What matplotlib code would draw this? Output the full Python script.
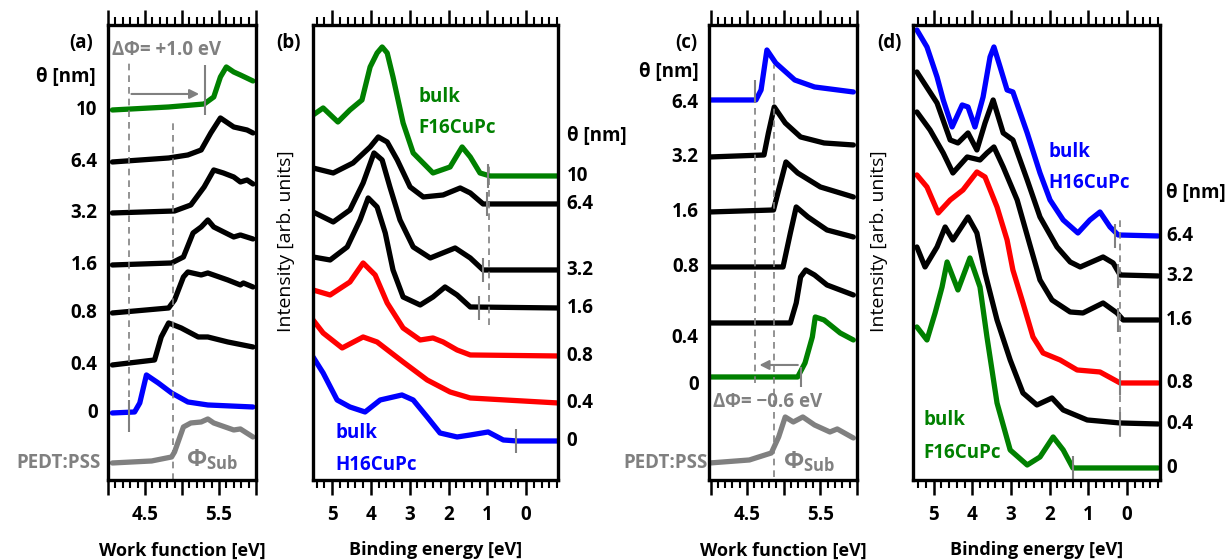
import matplotlib.pyplot as plt
from matplotlib.ticker import MultipleLocator

plt.rcParams['font.family'] = ['Open Sans', 'DejaVu Sans']
plt.rcParams['font.weight'] = 'bold'
plt.rcParams['font.size'] = 13.5
plt.rcParams['mathtext.default'] = 'regular'

GREEN = '#008000'
BLUE = '#0000ff'
RED = '#ff0000'
GRAY = '#808080'

# ---- (a) work function, F16CuPc on H16CuPc / PEDT:PSS ----
a_wf_10 = [4.06, 4.82, 5.30, 5.43, 5.52, 5.60, 5.70, 5.79, 5.96]
a_int_10 = [370, 373, 376, 383, 403, 413, 408, 405, 399]
a_wf_64 = [4.06, 4.82, 5.08, 5.26, 5.39, 5.52, 5.62, 5.70, 5.88, 5.96]
a_int_64 = [318, 322, 325, 330, 347, 362, 357, 353, 350, 347]
a_wf_32 = [4.06, 4.90, 5.12, 5.30, 5.43, 5.56, 5.70, 5.79, 5.88, 5.96]
a_int_32 = [267, 269, 275, 293, 310, 307, 303, 298, 300, 296]
a_wf_16 = [4.06, 4.86, 5.02, 5.15, 5.26, 5.35, 5.43, 5.70, 5.79, 5.96]
a_int_16 = [215, 217, 223, 247, 253, 260, 253, 243, 245, 241]
a_wf_08 = [4.06, 4.82, 4.90, 5.02, 5.08, 5.26, 5.35, 5.62, 5.79, 5.83, 5.96]
a_int_08 = [167, 172, 180, 203, 208, 205, 207, 200, 195, 197, 193]
a_wf_04 = [4.06, 4.63, 4.72, 4.82, 4.99, 5.22, 5.35, 5.62, 5.96]
a_int_04 = [115, 120, 143, 157, 152, 143, 143, 138, 133]
a_wf_0 = [4.06, 4.36, 4.43, 4.52, 4.68, 4.86, 5.08, 5.35, 5.96]
a_int_0 = [67, 68, 77, 105, 97, 87, 78, 75, 73]
a_wf_sub = [4.06, 4.59, 4.86, 4.90, 5.02, 5.12, 5.26, 5.35, 5.43, 5.70, 5.79, 5.96]
a_int_sub = [17, 19, 23, 28, 53, 57, 58, 61, 57, 50, 51, 43]
a_labels = ['10', '6.4', '3.2', '1.6', '0.8', '0.4', '0']

# ---- (b) valence band ----
b_be_10 = [5.49, 5.23, 4.85, 4.54, 4.23, 4.02, 3.84, 3.71, 3.58, 3.43, 3.17, 2.91, 2.40, 1.96, 1.65, 1.44, 1.19, 0.93, -0.82]
b_int_10 = [365, 372, 358, 370, 380, 413, 427, 433, 427, 403, 357, 327, 307, 313, 333, 323, 307, 304, 304]
b_be_64 = [5.49, 4.97, 4.46, 4.02, 3.81, 3.58, 3.32, 2.99, 2.65, 2.14, 1.70, 1.44, 1.11, -0.82]
b_int_64 = [312, 307, 317, 333, 343, 338, 320, 293, 283, 285, 292, 287, 276, 276]
b_be_32 = [5.49, 4.97, 4.54, 4.20, 3.92, 3.71, 3.51, 3.25, 2.91, 2.47, 1.83, 1.44, 1.11, -0.82]
b_int_32 = [268, 258, 270, 297, 327, 320, 293, 260, 233, 222, 232, 222, 210, 210]
b_be_16 = [5.49, 5.05, 4.61, 4.28, 4.07, 3.84, 3.63, 3.43, 3.17, 2.73, 2.40, 2.09, 1.78, 1.44, -0.82]
b_int_16 = [223, 220, 233, 260, 282, 273, 247, 210, 183, 175, 183, 193, 185, 173, 172]
b_be_08 = [5.49, 5.05, 4.54, 4.20, 3.89, 3.58, 3.17, 2.73, 2.40, 2.14, 1.78, 1.44, -0.82]
b_int_08 = [190, 185, 198, 217, 205, 177, 152, 140, 142, 138, 130, 125, 124]
b_be_04 = [5.49, 5.23, 4.74, 4.20, 3.84, 3.17, 2.55, 1.96, 1.44, -0.82]
b_int_04 = [160, 147, 132, 143, 138, 118, 100, 88, 82, 77]
b_be_0 = [5.49, 5.23, 4.87, 4.54, 4.15, 3.76, 3.20, 2.91, 2.55, 2.22, 1.78, 1.44, 0.98, 0.59, 0.23, -0.82]
b_int_0 = [123, 107, 80, 73, 68, 80, 85, 80, 63, 47, 43, 45, 48, 40, 39, 39]
b_onset = [0.98, 1.01, 1.11, 1.21, 0.26]

# ---- (c) work function, H16CuPc on F16CuPc / PEDT:PSS ----
c_wf_64 = [3.99, 4.62, 4.69, 4.77, 4.89, 5.15, 5.42, 5.95]
c_int_64 = [380, 380, 390, 430, 417, 400, 393, 388]
c_wf_32 = [3.99, 4.73, 4.79, 4.87, 5.02, 5.23, 5.55, 5.95]
c_int_32 = [323, 325, 347, 373, 357, 343, 337, 335]
c_wf_16 = [3.99, 4.86, 4.93, 5.03, 5.19, 5.50, 5.95]
c_int_16 = [268, 270, 290, 318, 307, 293, 283]
c_wf_08 = [3.99, 4.99, 5.09, 5.17, 5.33, 5.59, 5.95]
c_int_08 = [213, 213, 247, 273, 263, 250, 243]
c_wf_04 = [3.99, 5.09, 5.17, 5.23, 5.30, 5.42, 5.59, 5.95]
c_int_04 = [157, 157, 177, 203, 210, 205, 195, 185]
c_wf_0 = [3.99, 5.19, 5.29, 5.39, 5.43, 5.55, 5.77, 5.95]
c_int_0 = [103, 103, 117, 143, 163, 160, 147, 140]
c_wf_sub = [3.99, 4.53, 4.83, 4.93, 5.02, 5.13, 5.26, 5.42, 5.63, 5.73, 5.95]
c_int_sub = [17, 20, 27, 43, 63, 58, 63, 55, 48, 51, 42]
c_labels = ['6.4', '3.2', '1.6', '0.8', '0.4', '0']

# ---- (d) valence band ----
d_be_64 = [5.43, 5.17, 4.91, 4.75, 4.52, 4.26, 4.11, 3.93, 3.72, 3.54, 3.44, 3.28, 3.10, 2.95, 2.58, 2.25, 1.99, 1.65, 1.27, 0.96, 0.70, 0.44, 0.23, -0.80]
d_int_64 = [450, 433, 403, 380, 353, 375, 373, 353, 383, 423, 433, 413, 390, 388, 347, 307, 280, 260, 247, 260, 268, 253, 245, 244]
d_be_32 = [5.43, 4.91, 4.57, 4.37, 4.11, 3.88, 3.67, 3.46, 3.20, 2.95, 2.58, 2.25, 1.81, 1.47, 1.21, 0.62, 0.36, 0.18, -0.80]
d_int_32 = [408, 377, 340, 337, 347, 330, 357, 380, 347, 340, 300, 263, 233, 218, 213, 223, 217, 205, 204]
d_be_16 = [5.43, 5.09, 4.75, 4.50, 4.13, 3.80, 3.62, 3.44, 3.20, 2.84, 2.51, 2.25, 1.94, 1.47, 1.14, 0.62, 0.26, 0.10, -0.80]
d_int_16 = [368, 350, 327, 307, 323, 320, 327, 333, 313, 280, 235, 200, 180, 168, 167, 177, 167, 160, 160]
d_be_08 = [5.43, 5.17, 4.88, 4.57, 4.24, 3.88, 3.67, 3.36, 3.10, 2.95, 2.69, 2.43, 2.17, 1.73, 1.29, 0.70, 0.18, -0.80]
d_int_08 = [305, 293, 267, 280, 290, 308, 303, 273, 240, 210, 177, 143, 127, 120, 110, 108, 97, 97]
d_be_04 = [5.43, 5.22, 4.91, 4.70, 4.50, 4.11, 3.88, 3.67, 3.36, 3.02, 2.69, 2.33, 1.94, 1.65, 1.03, 0.18, -0.80]
d_int_04 = [233, 213, 233, 253, 240, 263, 247, 207, 160, 120, 87, 75, 82, 70, 60, 57, 56]
d_be_0 = [5.43, 5.17, 4.96, 4.78, 4.65, 4.37, 4.06, 3.80, 3.62, 3.36, 3.02, 2.58, 2.25, 1.91, 1.65, 1.40, -0.80]
d_int_0 = [153, 140, 167, 193, 218, 190, 222, 193, 143, 77, 30, 15, 23, 43, 30, 12, 12]
d_onset = [0.31, 0.23, 0.23, 0.18, 0.18, 1.40]

LW = 3.8


def frame(ax, xlim, minor, ticks, labels):
    ax.set_xlim(*xlim)
    ax.set_ylim(0, 455)
    ax.set_xticks(ticks, labels)
    ax.xaxis.set_minor_locator(MultipleLocator(minor))
    ax.tick_params(axis='x', which='both', direction='out', top=True, width=1.8,
                   labelsize=13.5, pad=7)
    ax.tick_params(axis='x', which='major', length=11)
    ax.tick_params(axis='x', which='minor', length=6, width=1.5)
    ax.set_yticks([])
    for s in ax.spines.values():
        s.set_linewidth(2.4)


def spectrum(ax, x, y, color):
    ax.plot(x, y, color=color, lw=LW, solid_capstyle='round', solid_joinstyle='round')


def xlabel(ax, text):
    ax.set_xlabel(text, fontsize=13, fontweight='bold')
    ax.xaxis.set_label_coords(0.5, -0.135)


fig = plt.figure(figsize=(12.31, 5.6), dpi=100)
ax_a = fig.add_axes([0.0877, 0.1429, 0.1202, 0.8125])
ax_b = fig.add_axes([0.2543, 0.1429, 0.1990, 0.8125])
ax_c = fig.add_axes([0.5760, 0.1429, 0.1202, 0.8125])
ax_d = fig.add_axes([0.7417, 0.1429, 0.2006, 0.8125])

wf_ticks = [4.0, 4.5, 5.0, 5.5, 6.0]
wf_labels = ['', '4.5', '', '5.5', '']
be_ticks = [5, 4, 3, 2, 1, 0]
be_labels = ['5', '4', '3', '2', '1', '0']
dash = (0, (4, 3))

# ---------- (a) ----------
ax = ax_a
frame(ax, (4.03, 6.0), 0.1, wf_ticks, wf_labels)
a_curves = [(a_wf_10, a_int_10, GREEN), (a_wf_64, a_int_64, 'black'),
            (a_wf_32, a_int_32, 'black'), (a_wf_16, a_int_16, 'black'),
            (a_wf_08, a_int_08, 'black'), (a_wf_04, a_int_04, 'black'),
            (a_wf_0, a_int_0, BLUE)]
spectrum(ax, a_wf_sub, a_int_sub, GRAY)
for (x, y, c), lab in zip(a_curves, a_labels):
    spectrum(ax, x, y, c)
    ax.text(-0.07, y[0], lab, transform=ax.get_yaxis_transform(), ha='right', va='center')
ax.text(-0.05, a_int_sub[0], 'PEDT:PSS', transform=ax.get_yaxis_transform(),
        ha='right', va='center', color=GRAY)
ax.text(-0.08, 403, 'θ [nm]', transform=ax.get_yaxis_transform(), ha='right', va='center')
ax.text(-0.10, 437, '(a)', transform=ax.get_yaxis_transform(), ha='right', va='center')
ax.vlines(4.28, 48, 418, color=GRAY, lw=1.2, linestyles=dash)
ax.vlines(4.88, 0, 360, color=GRAY, lw=1.2, linestyles=dash)
ax.vlines(4.28, 48, 80, color=GRAY, lw=1.5)
ax.vlines(5.31, 365, 415, color=GRAY, lw=1.5)
ax.annotate('', xy=(5.27, 386), xytext=(4.28, 386),
            arrowprops=dict(arrowstyle='-|>', color=GRAY, lw=1.5, mutation_scale=14))
ax.text(4.05, 430, 'ΔΦ= +1.0 eV', color=GRAY, ha='left', va='center')
ax.text(5.06, 20, r'$\Phi_{Sub}$', color=GRAY, ha='left', va='center', fontsize=17)
xlabel(ax, 'Work function [eV]')

# ---------- (b) ----------
ax = ax_b
frame(ax, (5.49, -0.82), 0.2, be_ticks, be_labels)
b_curves = [(b_be_10, b_int_10, GREEN, '10'), (b_be_64, b_int_64, 'black', '6.4'),
            (b_be_32, b_int_32, 'black', '3.2'), (b_be_16, b_int_16, 'black', '1.6'),
            (b_be_08, b_int_08, RED, '0.8'), (b_be_04, b_int_04, RED, '0.4'),
            (b_be_0, b_int_0, BLUE, '0')]
for x, y, c, lab in b_curves:
    spectrum(ax, x, y, c)
    ax.text(1.035, y[-1], lab, transform=ax.get_yaxis_transform(), ha='left', va='center')
for e, (x, y, c, lab) in zip(b_onset, [b_curves[i] for i in (0, 1, 2, 3, 6)]):
    ax.vlines(e, y[-1] - 12, y[-1] + 12, color=GRAY, lw=1.5)
ax.vlines(0.95, 155, 315, color=GRAY, lw=1.2, linestyles=dash)
ax.text(1.035, 344, 'θ [nm]', transform=ax.get_yaxis_transform(), ha='left', va='center')
ax.text(-0.05, 437, '(b)', transform=ax.get_yaxis_transform(), ha='right', va='center')
ax.text(2.78, 383, 'bulk', color=GREEN, ha='left', va='center')
ax.text(2.78, 352, 'F16CuPc', color=GREEN, ha='left', va='center')
ax.text(4.92, 47, 'bulk', color=BLUE, ha='left', va='center')
ax.text(4.92, 15, 'H16CuPc', color=BLUE, ha='left', va='center')
xlabel(ax, 'Binding energy [eV]')
ax.set_ylabel('Intensity [arb. units]', fontsize=14, fontweight='normal')
ax.yaxis.set_label_coords(-0.075, 0.525)

# ---------- (c) ----------
ax = ax_c
frame(ax, (3.98, 5.95), 0.1, wf_ticks, wf_labels)
c_curves = [(c_wf_64, c_int_64, BLUE), (c_wf_32, c_int_32, 'black'),
            (c_wf_16, c_int_16, 'black'), (c_wf_08, c_int_08, 'black'),
            (c_wf_04, c_int_04, 'black'), (c_wf_0, c_int_0, GREEN)]
c_label_y = [377, 323, 268, 213, 142, 95]
spectrum(ax, c_wf_sub, c_int_sub, GRAY)
for (x, y, c), lab, ly in zip(c_curves, c_labels, c_label_y):
    spectrum(ax, x, y, c)
    ax.text(-0.07, ly, lab, transform=ax.get_yaxis_transform(), ha='right', va='center')
ax.text(-0.01, c_int_sub[0], 'PEDT:PSS', transform=ax.get_yaxis_transform(),
        ha='right', va='center', color=GRAY)
ax.text(-0.07, 408, 'θ [nm]', transform=ax.get_yaxis_transform(), ha='right', va='center')
ax.text(-0.08, 437, '(c)', transform=ax.get_yaxis_transform(), ha='right', va='center')
ax.vlines(4.61, 97, 400, color=GRAY, lw=1.2, linestyles=dash)
ax.vlines(4.87, 3, 415, color=GRAY, lw=1.2, linestyles=dash)
ax.vlines(4.61, 377, 400, color=GRAY, lw=1.5)
ax.vlines(5.23, 93, 113, color=GRAY, lw=1.5)
ax.annotate('', xy=(4.63, 115), xytext=(5.23, 115),
            arrowprops=dict(arrowstyle='-|>', color=GRAY, lw=1.5, mutation_scale=14))
ax.text(4.04, 78, 'ΔΦ= −0.6 eV', color=GRAY, ha='left', va='center')
ax.text(4.99, 18, r'$\Phi_{Sub}$', color=GRAY, ha='left', va='center', fontsize=17)
xlabel(ax, 'Work function [eV]')

# ---------- (d) ----------
ax = ax_d
frame(ax, (5.53, -0.85), 0.2, be_ticks, be_labels)
d_curves = [(d_be_64, d_int_64, BLUE, '6.4'), (d_be_32, d_int_32, 'black', '3.2'),
            (d_be_16, d_int_16, 'black', '1.6'), (d_be_08, d_int_08, RED, '0.8'),
            (d_be_04, d_int_04, 'black', '0.4'), (d_be_0, d_int_0, GREEN, '0')]
for (x, y, c, lab), e in zip(d_curves, d_onset):
    spectrum(ax, x, y, c)
    ax.text(1.025, y[-1], lab, transform=ax.get_yaxis_transform(), ha='left', va='center')
    ax.vlines(e, y[-1] - 12, y[-1] + 12, color=GRAY, lw=1.5)
ax.vlines(0.18, 43, 263, color=GRAY, lw=1.2, linestyles=dash)
ax.text(1.025, 287, 'θ [nm]', transform=ax.get_yaxis_transform(), ha='left', va='center')
ax.text(-0.045, 437, '(d)', transform=ax.get_yaxis_transform(), ha='right', va='center')
ax.text(2.04, 328, 'bulk', color=BLUE, ha='left', va='center')
ax.text(2.04, 297, 'H16CuPc', color=BLUE, ha='left', va='center')
ax.text(5.25, 60, 'bulk', color=GREEN, ha='left', va='center')
ax.text(5.25, 27, 'F16CuPc', color=GREEN, ha='left', va='center')
xlabel(ax, 'Binding energy [eV]')
ax.set_ylabel('Intensity [arb. units]', fontsize=14, fontweight='normal')
ax.yaxis.set_label_coords(-0.1, 0.525)

fig.savefig('out.png', dpi=100)
